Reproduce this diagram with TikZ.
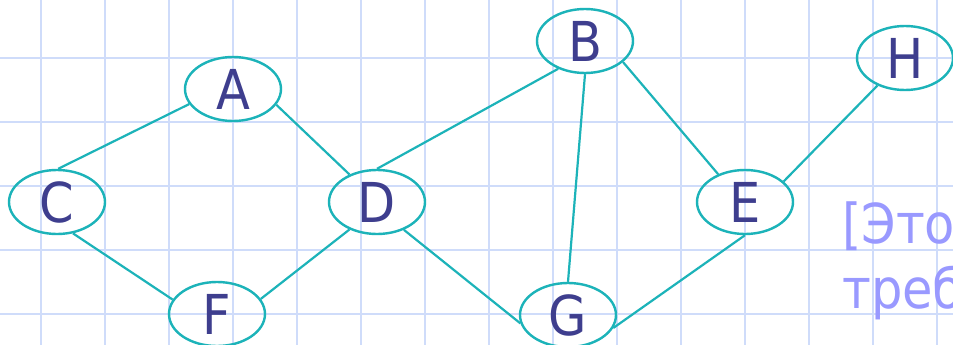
\documentclass[tikz,border=0pt]{standalone}
\usepackage{fontspec}
\setmainfont{DejaVu Sans}[FakeStretch=0.9]
\usetikzlibrary{shapes.geometric}
\definecolor{gridc}{HTML}{CFDCFA}
\definecolor{edgec}{HTML}{1CB3B9}
\definecolor{letc}{HTML}{3E3E8E}
\definecolor{notec}{HTML}{9999FF}
\tikzset{
  vert/.style={ellipse, draw=edgec, line width=2.4pt, minimum width=96pt, minimum height=64pt, inner sep=0pt, text=letc, font=\fontsize{55}{60}\selectfont},
  edge/.style={draw=edgec, line width=2.2pt},
  gridline/.style={draw=gridc, line width=2pt}
}
\begin{document}
\begin{tikzpicture}[x=1pt,y=-1pt]
\useasboundingbox (0,0) rectangle (953,345);
\clip (0,0) rectangle (953,345);
\fill[white] (0,0) rectangle (953,345);
\foreach \k in {0,...,14} { \draw[gridline] (41+64*\k,0) -- (41+64*\k,345); }
\foreach \k in {0,...,4} { \draw[gridline] (0,58+64*\k) -- (953,58+64*\k); }
\node[vert] (A) at (233,89) {A};
\node[vert] (C) at (57,202) {C};
\node[vert] (F) at (217,314) {F};
\node[vert] (D) at (377,202) {D};
\node[vert] (B) at (585,41) {B};
\node[vert] (G) at (568,315) {G};
\node[vert] (E) at (745,202) {E};
\node[vert] (H) at (905,58) {H};
\node[anchor=base west, inner sep=0pt, align=left, text=notec, font=\fontsize{55}{65}\selectfont] (note) at (842,308) {[Это\\треб};
\draw[edge] (A.199) -- (C.88);
\draw[edge] (A.-20) -- (D.135);
\draw[edge] (C.-63) -- (F.162);
\draw[edge] (F.19) -- (D.225);
\draw[edge] (D.90) -- (B.226);
\draw[edge] (B.270) -- (G.90);
\draw[edge] (D.-46) -- (G.190);
\draw[edge] (B.-29) -- (E.134);
\draw[edge] (E.28) -- (H.225);
\draw[edge] (E.270) -- (G.-16);
\end{tikzpicture}
\end{document}
